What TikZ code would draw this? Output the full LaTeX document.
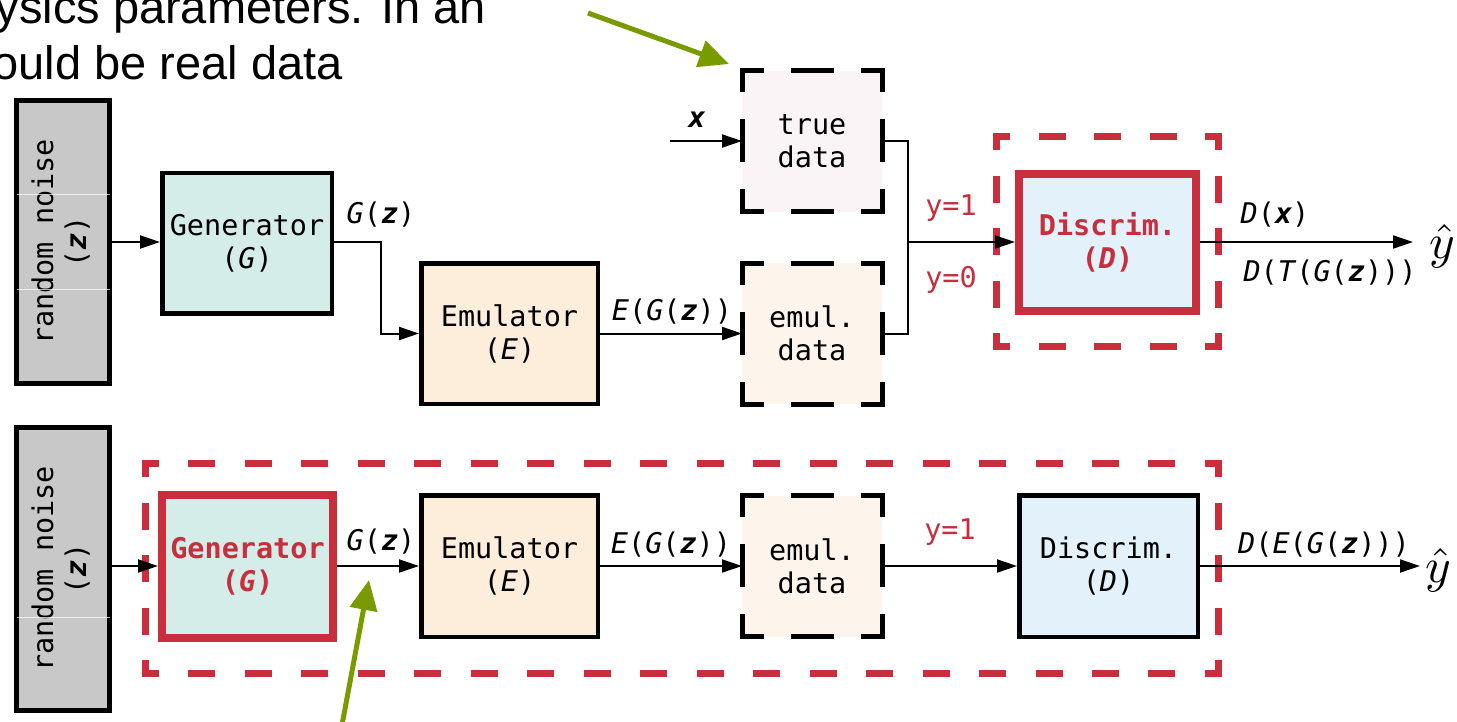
\documentclass[tikz,border=0pt]{standalone}
\usepackage{fontspec}
\setmainfont{Liberation Sans}
\setmonofont{DejaVu Sans Mono}
\usetikzlibrary{arrows.meta}

\definecolor{rd}{RGB}{200,46,60}
\definecolor{grn}{RGB}{120,155,0}
\definecolor{noisegray}{RGB}{200,200,200}
\definecolor{genc}{RGB}{213,237,232}
\definecolor{emuc}{RGB}{253,238,219}
\definecolor{truec}{RGB}{250,244,247}
\definecolor{emdc}{RGB}{253,245,236}
\definecolor{disc}{RGB}{227,242,250}

\newcommand{\mono}{\ttfamily\fontsize{28.5}{33}\selectfont}
\newcommand{\bz}{\textbf{\textit{z}}}
\newcommand{\bx}{\textbf{\textit{x}}}
\newcommand{\yhat}{\scalebox{4.9}{$\hat{y}$}}

\tikzset{
  box/.style={draw=black, line width=4.5pt, inner sep=0pt, align=center, font=\mono},
  redbox/.style={draw=rd, line width=8pt, inner sep=0pt, align=center, font=\mono\bfseries, text=rd},
  noisebox/.style={draw=black, line width=5pt, fill=noisegray, inner sep=0pt,
    minimum width=93pt, minimum height=283pt, font=\mono},
  dbox/.style={inner sep=0pt, outer sep=0pt, align=center, font=\mono,
    minimum width=140pt, minimum height=141pt},
  dside/.style={draw=black, line width=5pt, line cap=rect,
    dash pattern=on 38pt off 32pt, dash phase=19pt},
  rframe/.style={inner sep=0pt, outer sep=0pt},
  rside/.style={draw=rd, line width=7pt, line cap=rect},
  arr/.style={-{Triangle[length=20pt,width=13pt]}, line width=2pt},
  garr/.style={-{Triangle[length=30pt,width=27pt]}, line width=5pt, draw=grn, color=grn},
  lab/.style={font=\mono, inner sep=0pt},
  ylab/.style={font=\mono, text=rd, inner sep=0pt},
  hat/.style={inner sep=0pt},
  streak/.style={draw=white, line width=0.8pt, opacity=0.7}
}

\begin{document}
\begin{tikzpicture}[x=1pt,y=-1pt]
\useasboundingbox (0,0) rectangle (1457,721);

% caption fragment at the top
\node[anchor=base east, inner sep=0pt, font=\fontsize{47}{56}\selectfont] (capa) at (486,23) {ysics parameters. In an};
\node[anchor=base east, inner sep=0pt, font=\fontsize{47}{56}\selectfont] (capb) at (343,79) {ould be real data};

% ---------------- upper row: training the discriminator ----------------
\node[noisebox] (n1) at (63,242) {\rotatebox{90}{\begin{tabular}{@{}c@{}}random noise\\(\bz)\end{tabular}}};
\draw[streak] (16.5,194) -- (109.5,194);
\draw[streak] (16.5,289) -- (109.5,289);

\node[box, fill=genc, minimum width=169.5pt, minimum height=140.5pt] (g1) at (247,243) {Generator\\(\textit{G})};
\node[box, fill=emuc, minimum width=176.5pt, minimum height=140.5pt] (e1) at (509.5,333.5) {Emulator\\(\textit{E})};

\node[dbox, fill=truec] (t1) at (812,141) {true\\data};
\draw[dside] (t1.north west) -- (t1.north east) (t1.south west) -- (t1.south east)
             (t1.north west) -- (t1.south west) (t1.north east) -- (t1.south east);
\node[dbox, fill=emdc] (m1) at (812,333.5) {emul.\\data};
\draw[dside] (m1.north west) -- (m1.north east) (m1.south west) -- (m1.south east)
             (m1.north west) -- (m1.south west) (m1.north east) -- (m1.south east);

\node[rframe, minimum width=222pt, minimum height=210pt] (r1) at (1107.5,241.5) {};
\draw[rside, dash pattern=on 20pt off 35.5pt, dash phase=10pt]
  (r1.north west) -- (r1.north east) (r1.south west) -- (r1.south east);
\draw[rside, dash pattern=on 20pt off 32.5pt, dash phase=10pt]
  (r1.north west) -- (r1.south west) (r1.north east) -- (r1.south east);

\node[redbox, fill=disc, minimum width=177pt, minimum height=137pt] (d1) at (1107.5,242.5) {Discrim.\\(\textit{D})};

\coordinate (xin) at (670,141);
\coordinate (mrg) at (908,242);
\coordinate (o1) at (1413,242);

\draw[arr] (n1.east) -- (n1.east -| g1.west);
\draw[arr] (g1.east |- n1.east) -- ++(47,0) |- (e1.west);
\draw[arr] (e1.east) -- (m1.west);
\draw[arr] (xin) -- (t1.west);
\draw[line width=2pt] (t1.east) -| (mrg) |- (m1.east);
\draw[arr] (mrg) -- (mrg -| d1.west);
\draw[arr] (d1.east |- mrg) -- (o1);

\node[lab] (lg1) at (381,215) {\textit{G}(\bz)};
\node[lab] (le1) at (672,312) {\textit{E}(\textit{G}(\bz))};
\node[lab] (lx) at (697,120) {\bx};
\node[ylab] (ly1) at (951,208) {y=1};
\node[ylab] (ly0) at (951,280) {y=0};
\node[lab] (ldx) at (1275,215) {\textit{D}(\bx)};
\node[lab] (ldt) at (1330,273) {\textit{D}(\textit{T}(\textit{G}(\bz)))};
\node[hat] (yh1) at (1442,246) {\yhat};

% ---------------- lower row: training the generator ----------------
\node[noisebox] (n2) at (63,569) {\rotatebox{90}{\begin{tabular}{@{}c@{}}random noise\\(\bz)\end{tabular}}};
\draw[streak] (16.5,617) -- (109.5,617);

\node[rframe, minimum width=1073pt, minimum height=210pt] (r2) at (682,568.5) {};
\draw[rside, dash pattern=on 20pt off 36.47pt, dash phase=10pt]
  (r2.north west) -- (r2.north east) (r2.south west) -- (r2.south east);
\draw[rside, dash pattern=on 20pt off 32.5pt, dash phase=10pt]
  (r2.north west) -- (r2.south west) (r2.north east) -- (r2.south east);

\node[redbox, fill=genc, minimum width=171pt, minimum height=143pt] (g2) at (247.5,566) {Generator\\(\textit{G})};
\node[box, fill=emuc, minimum width=176.5pt, minimum height=141.5pt] (e2) at (509.5,566) {Emulator\\(\textit{E})};
\node[dbox, fill=emdc] (m2) at (812,566) {emul.\\data};
\draw[dside] (m2.north west) -- (m2.north east) (m2.south west) -- (m2.south east)
             (m2.north west) -- (m2.south west) (m2.north east) -- (m2.south east);
\node[box, fill=disc, minimum width=178.5pt, minimum height=141.5pt] (d2) at (1108.5,566) {Discrim.\\(\textit{D})};

\coordinate (o2) at (1420,566);

\draw[arr] (n2.east |- g2.west) -- (g2.west);
\draw[arr] (g2.east) -- (e2.west);
\draw[arr] (e2.east) -- (m2.west);
\draw[arr] (m2.east) -- (d2.west);
\draw[arr] (d2.east) -- (o2);

\node[lab] (lg2) at (381,542) {\textit{G}(\bz)};
\node[lab] (le2) at (671,545) {\textit{E}(\textit{G}(\bz))};
\node[ylab] (ly2) at (950,532) {y=1};
\node[lab] (lde) at (1324,545) {\textit{D}(\textit{E}(\textit{G}(\bz)))};
\node[hat] (yh2) at (1438,570) {\yhat};

% pointer arrows
\coordinate (pa1) at (588,13);
\coordinate (pa2) at (729,64);
\coordinate (pb1) at (342,725);
\coordinate (pb2) at (369,580);
\draw[garr] (pa1) -- (pa2);
\draw[garr] (pb1) -- (pb2);
\end{tikzpicture}
\end{document}
